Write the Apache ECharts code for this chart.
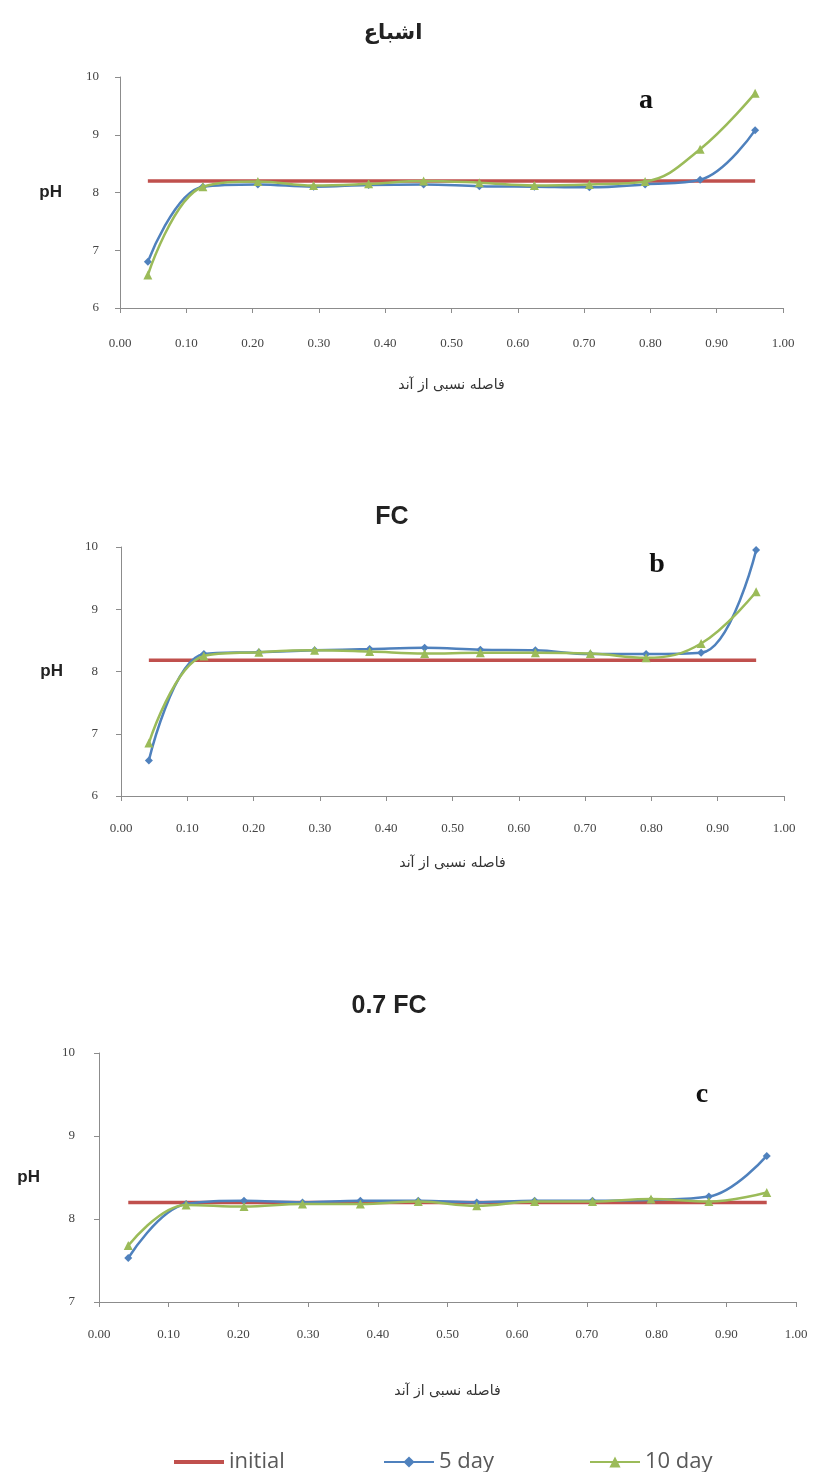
<!DOCTYPE html>
<html>
<head>
<meta charset="utf-8">
<script src="https://cdn.jsdelivr.net/npm/echarts@6/dist/echarts.min.js"></script>
<style>html,body{margin:0;padding:0;background:#fff;}#c{width:815px;height:1472px;}</style>
</head>
<body>
<div id="c"></div>
<script>
// Relative distance from anode
const distance = [0.042, 0.125, 0.208, 0.292, 0.375, 0.458, 0.542, 0.625, 0.708, 0.792, 0.875, 0.958];

// Panel a: saturation (اشباع)
const aInitial = [8.2, 8.2, 8.2, 8.2, 8.2, 8.2, 8.2, 8.2, 8.2, 8.2, 8.2, 8.2];
const a5day = [6.8, 8.1, 8.14, 8.1, 8.13, 8.14, 8.11, 8.1, 8.09, 8.14, 8.22, 9.08];
const a10day = [6.57, 8.1, 8.19, 8.12, 8.15, 8.2, 8.17, 8.12, 8.14, 8.19, 8.75, 9.72];

// Panel b: FC
const bInitial = [8.18, 8.18, 8.18, 8.18, 8.18, 8.18, 8.18, 8.18, 8.18, 8.18, 8.18, 8.18];
const b5day = [6.57, 8.28, 8.31, 8.34, 8.36, 8.38, 8.35, 8.34, 8.28, 8.28, 8.3, 9.95];
const b10day = [6.85, 8.25, 8.31, 8.34, 8.32, 8.29, 8.3, 8.3, 8.29, 8.22, 8.45, 9.28];

// Panel c: 0.7 FC
const cInitial = [8.2, 8.2, 8.2, 8.2, 8.2, 8.2, 8.2, 8.2, 8.2, 8.2, 8.2, 8.2];
const c5day = [7.53, 8.18, 8.22, 8.2, 8.22, 8.22, 8.2, 8.22, 8.22, 8.23, 8.27, 8.76];
const c10day = [7.68, 8.17, 8.15, 8.18, 8.18, 8.21, 8.16, 8.21, 8.21, 8.24, 8.21, 8.32];

const panelTitles = ['اشباع', 'FC', '0.7 FC'];
const panelLetters = ['a', 'b', 'c'];
const xName = 'فاصله نسبی از آند';
const yName = 'pH';
const seriesNames = ['initial', '5 day', '10 day'];

const RED = '#C0504D', BLUE = '#4F81BD', GREEN = '#9BBB59';
const AXIS = '#8c8c8c';
const SERIF = '"Liberation Serif","DejaVu Serif",serif';
const SANS = '"Liberation Sans","Open Sans",sans-serif';

const grids = [
  {left: 120, right: 32, top: 77, height: 231},
  {left: 121, right: 31, top: 547, height: 249},
  {left: 99, right: 19, top: 1053, height: 249}
];
const yRanges = [[6, 10], [6, 10], [7, 10]];
const labelMargins = [29, 26, 26];
const xNameGaps = [70, 60, 82];
const yNameGaps = [58, 58, 59];
const yLabelMargins = [21, 23, 24];

function pairs(vals) { return distance.map((d, i) => [d, vals[i]]); }

const xAxes = grids.map((g, i) => ({
  type: 'value', gridIndex: i, min: 0, max: 1, interval: 0.1,
  axisLine: {show: true, lineStyle: {color: AXIS, width: 1}},
  axisTick: {show: true, length: 5, lineStyle: {color: AXIS}},
  splitLine: {show: false},
  axisLabel: {formatter: v => v.toFixed(2), fontFamily: SERIF, fontSize: 13, color: '#444', margin: labelMargins[i]},
  name: xName, nameLocation: 'middle', nameGap: xNameGaps[i],
  nameTextStyle: {fontFamily: '"DejaVu Sans",sans-serif', fontSize: 14, color: '#333'}
}));
const yAxes = grids.map((g, i) => ({
  type: 'value', gridIndex: i, min: yRanges[i][0], max: yRanges[i][1], interval: 1,
  axisLine: {show: true, lineStyle: {color: AXIS, width: 1}},
  axisTick: {show: true, length: 5, lineStyle: {color: AXIS}},
  splitLine: {show: false},
  axisLabel: {fontFamily: SERIF, fontSize: 13, color: '#444', margin: yLabelMargins[i]},
  name: yName, nameLocation: 'middle', nameRotate: 0, nameGap: yNameGaps[i],
  nameTextStyle: {fontFamily: SANS, fontSize: 17, fontWeight: 'bold', color: '#222'}
}));

const data = [[aInitial, a5day, a10day], [bInitial, b5day, b10day], [cInitial, c5day, c10day]];
const series = [];
data.forEach((set, i) => {
  series.push({
    name: seriesNames[0], type: 'line', xAxisIndex: i, yAxisIndex: i,
    data: pairs(set[0]), symbol: 'none',
    lineStyle: {color: RED, width: 3.5}, itemStyle: {color: RED}, z: 2
  });
  series.push({
    name: seriesNames[1], type: 'line', xAxisIndex: i, yAxisIndex: i,
    data: pairs(set[1]), smooth: 0.4, symbol: 'diamond', symbolSize: 8,
    lineStyle: {color: BLUE, width: 2.5}, itemStyle: {color: BLUE}, z: 3
  });
  series.push({
    name: seriesNames[2], type: 'line', xAxisIndex: i, yAxisIndex: i,
    data: pairs(set[2]), smooth: 0.4, symbol: 'triangle', symbolSize: 9,
    lineStyle: {color: GREEN, width: 2.5}, itemStyle: {color: GREEN}, z: 4
  });
});

const titleTops = [18, 500, 989];
const titleCenters = [388, 387, 384];
const titles = panelTitles.map((t, i) => ({
  text: t, left: titleCenters[i], top: titleTops[i], textAlign: 'center',
  textStyle: {fontFamily: i === 0 ? '"DejaVu Serif","DejaVu Sans",serif' : SANS,
    fontSize: i === 0 ? 21 : 25, fontWeight: 'bold', color: '#222'}
}));

const letterPos = [[646, 101], [657, 565], [702, 1095]];
const graphics = panelLetters.map((l, i) => ({
  type: 'text', x: letterPos[i][0], y: letterPos[i][1],
  style: {text: l, font: 'bold 28px "Liberation Serif", serif', fill: '#111', align: 'center', verticalAlign: 'middle'}
}));

const legendLefts = [169, 378, 584];
const legendIcons = ['rect', undefined, undefined];
const legendHeights = [4, 14, 14];
const legends = seriesNames.map((n, i) => ({
  data: [legendIcons[i] ? {name: n, icon: legendIcons[i]} : n],
  left: legendLefts[i], top: 1446, itemWidth: 50, itemHeight: legendHeights[i], itemGap: 4,
  textStyle: {fontFamily: '"Open Sans","Liberation Sans",sans-serif', fontSize: 22, color: '#595959'}
}));

const chart = echarts.init(document.getElementById('c'), null, {renderer: 'canvas'});
chart.setOption({
  animation: false,
  backgroundColor: '#fff',
  title: titles,
  grid: grids,
  xAxis: xAxes,
  yAxis: yAxes,
  legend: legends,
  graphic: graphics,
  series: series
});
</script>
</body>
</html>
